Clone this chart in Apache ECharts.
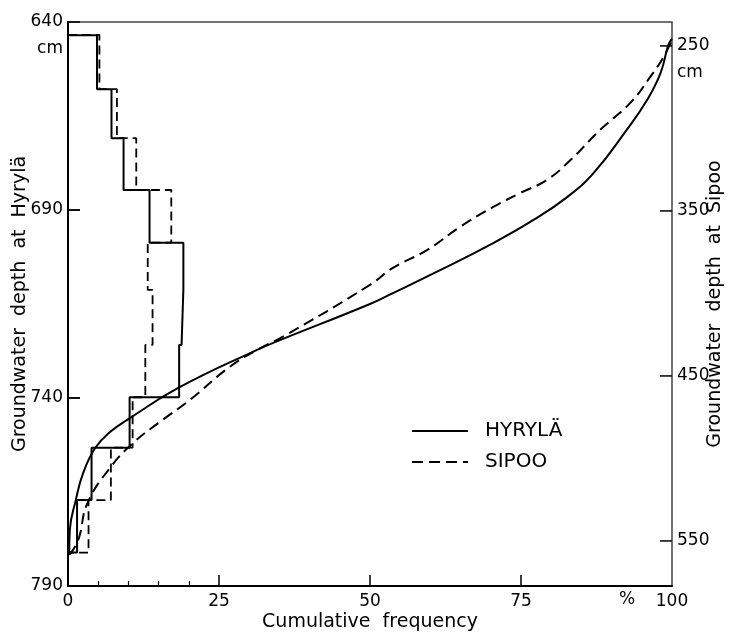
<!DOCTYPE html>
<html>
<head>
<meta charset="utf-8">
<script src="https://cdn.jsdelivr.net/npm/echarts@6/dist/echarts.min.js"></script>
<style>
html,body{margin:0;padding:0;background:#fff;}
#chart{width:732px;height:633px;}
</style>
</head>
<body>
<div id="chart"></div>
<script>
// ---- tick labels ----
const xTickLabels = [0, 25, 50, 75, 100];
const xMajorTicks = [25, 50, 75];
const xMinorTicks = [5, 10, 15, 20];
const hyrylaTickLabels = [640, 690, 740, 790];
const hyrylaInnerTicks = [690, 740];
const sipooTickLabels = [250, 350, 450, 550];

// ---- frequency histograms (class boundaries in cm, frequency in %) ----
const hyrylaClassBounds = [643.5, 657.9, 670.9, 684.7, 698.7, 711.3, 725.9, 739.8, 753.2, 767.1, 781.1];
const hyrylaFreq = [4.8, 7.2, 9.2, 13.5, 19.1, 18.8, 18.4, 10.2, 3.9, 1.5];
const sipooClassBounds = [243.3, 276.2, 305.9, 337.3, 369.2, 397.9, 431.2, 462.9, 493.5, 525.2, 557.1];
const sipooFreq = [5.2, 8.1, 11.3, 17.1, 13.2, 14.0, 12.8, 10.7, 7.1, 3.4];

// ---- cumulative frequency curves ----
const hyrylaCumFreq = [0.2, 0.3, 1.3, 2.5, 4.5, 7.0, 10.3, 18.4, 31.3, 35.1, 50.0, 53.8, 61.6, 70.4, 77.0, 82.7, 87.0, 92.5, 95.9, 98.1, 99.4, 100];
const hyrylaCumDepth = [781.2, 775.1, 767.1, 760.0, 753.3, 749.0, 745.3, 737.2, 727.2, 724.6, 715.0, 712.1, 706.0, 698.8, 692.7, 686.5, 680.2, 668.7, 660.7, 653.6, 646.1, 644.5];
const sipooCumFreq = [0.2, 1.7, 3.2, 7.0, 10.8, 15.2, 20.2, 26.8, 31.3, 35.6, 50.0, 53.8, 59.5, 64.9, 70.4, 74.9, 79.3, 83.2, 88.1, 93.1, 96.4, 98.6, 100];
const sipooCumDepth = [558.5, 549.4, 527.3, 505.5, 490.6, 477.9, 464.5, 444.4, 434.2, 426.2, 394.8, 384.5, 373.6, 359.7, 347.6, 339.1, 331.2, 319.1, 300.9, 284.5, 268.8, 256.7, 246.4];

function stepOutline(bounds, freq) {
  const pts = [[0, bounds[0]]];
  for (let i = 0; i < freq.length; i++) {
    pts.push([freq[i], bounds[i]]);
    pts.push([freq[i], bounds[i + 1]]);
  }
  pts.push([0, bounds[bounds.length - 1]]);
  return pts;
}
function zip(a, b) { return a.map((v, i) => [v, b[i]]); }

const FONT = 'DejaVu Sans';
const chart = echarts.init(document.getElementById('chart'));
chart.setOption({
  animation: false,
  textStyle: { fontFamily: FONT, color: '#000' },
  grid: {
    left: 68, right: 60, top: 22, bottom: 47,
    containLabel: false, outerBoundsMode: 'none',
    show: true, borderColor: '#444', borderWidth: 1.5, backgroundColor: 'transparent'
  },
  legend: {
    data: ['HYRYLÄ', 'SIPOO'],
    orient: 'vertical',
    left: 406,
    top: 416,
    itemWidth: 56,
    itemHeight: 14,
    itemGap: 11,
    itemStyle: { opacity: 0 },
    textStyle: { fontFamily: FONT, fontSize: 20, color: '#000', padding: [0, 0, 0, 12] }
  },
  xAxis: [
    {
      type: 'value', min: 0, max: 100, position: 'bottom',
      axisLine: { lineStyle: { color: '#000', width: 2 } },
      axisTick: { inside: true, length: 11, customValues: xMajorTicks, lineStyle: { color: '#000', width: 1.5 } },
      axisLabel: { customValues: xTickLabels, fontSize: 17, color: '#000', margin: 7, fontFamily: FONT },
      splitLine: { show: false },
      name: 'Cumulative  frequency', nameLocation: 'middle', nameGap: 27, nameMoveOverlap: false,
      nameTextStyle: { fontSize: 19, color: '#000', fontFamily: FONT }
    },
    {
      type: 'value', min: 0, max: 100, position: 'bottom',
      axisLine: { show: false },
      axisTick: { inside: true, length: 5, customValues: xMinorTicks, lineStyle: { color: '#000', width: 1.2 } },
      axisLabel: { show: false },
      splitLine: { show: false }
    }
  ],
  yAxis: [
    {
      type: 'value', min: 640, max: 790, interval: 50, inverse: true, position: 'left',
      axisLine: { show: true, lineStyle: { color: '#000', width: 2 } },
      axisTick: { show: true, inside: true, length: 12, lineStyle: { color: '#000', width: 1.5 } },
      axisLabel: { customValues: hyrylaTickLabels, fontSize: 17, color: '#000', margin: 5, fontFamily: FONT },
      splitLine: { show: false },
      name: 'Groundwater  depth  at  Hyrylä', nameLocation: 'middle', nameRotate: 90, nameGap: 38, nameMoveOverlap: false,
      nameTextStyle: { fontSize: 19, color: '#000', fontFamily: FONT }
    },
    {
      type: 'value', min: 235.5, max: 577.3, inverse: true, position: 'right',
      axisLine: { show: true, lineStyle: { color: '#000', width: 2 } },
      axisTick: { show: false },
      axisLabel: { customValues: sipooTickLabels, fontSize: 17, color: '#000', margin: 5, fontFamily: FONT },
      splitLine: { show: false },
      name: 'Groundwater  depth  at  Sipoo', nameLocation: 'middle', nameRotate: 90, nameGap: 34, nameMoveOverlap: false,
      nameTextStyle: { fontSize: 19, color: '#000', fontFamily: FONT }
    }
  ],
  series: [
    {
      name: 'HYRYLÄ', type: 'line', xAxisIndex: 0, yAxisIndex: 0,
      data: zip(hyrylaCumFreq, hyrylaCumDepth),
      smooth: 0.45, symbol: 'none', showSymbol: false,
      lineStyle: { color: '#000', width: 2 }, itemStyle: { color: '#000' }
    },
    {
      name: 'SIPOO', type: 'line', xAxisIndex: 0, yAxisIndex: 1,
      data: zip(sipooCumFreq, sipooCumDepth),
      smooth: 0.45, symbol: 'none', showSymbol: false,
      lineStyle: { color: '#000', width: 2, type: [11, 6] }, itemStyle: { color: '#000' }
    },
    {
      name: 'Hyrylä frequency', type: 'line', xAxisIndex: 0, yAxisIndex: 0,
      data: stepOutline(hyrylaClassBounds, hyrylaFreq),
      symbol: 'none', showSymbol: false,
      lineStyle: { color: '#000', width: 2 }
    },
    {
      name: 'Sipoo frequency', type: 'line', xAxisIndex: 0, yAxisIndex: 1,
      data: stepOutline(sipooClassBounds, sipooFreq),
      symbol: 'none', showSymbol: false,
      lineStyle: { color: '#000', width: 1.8, type: [9, 5] }
    }
  ]
});

// inward y-axis ticks and unit annotations, positioned through the chart's own scales
const xRight = chart.convertToPixel({ xAxisIndex: 0 }, 100);
const xLeft = chart.convertToPixel({ xAxisIndex: 0 }, 0);
const graphics = [];
sipooTickLabels.forEach(v => {
  const y = chart.convertToPixel({ yAxisIndex: 1 }, v);
  graphics.push({ type: 'line', z: 100, shape: { x1: xRight - 12, y1: y, x2: xRight, y2: y }, style: { stroke: '#000', lineWidth: 1.5 } });
});
hyrylaInnerTicks.forEach(v => {
  const y = chart.convertToPixel({ yAxisIndex: 0 }, v);
  graphics.push({ type: 'line', z: 100, shape: { x1: xLeft, y1: y, x2: xLeft + 12, y2: y }, style: { stroke: '#000', lineWidth: 1.5 } });
});
const yTopLeft = chart.convertToPixel({ yAxisIndex: 0 }, hyrylaTickLabels[0]);
const yTopRight = chart.convertToPixel({ yAxisIndex: 1 }, sipooTickLabels[0]);
const yBottom = chart.convertToPixel({ yAxisIndex: 0 }, hyrylaTickLabels[hyrylaTickLabels.length - 1]);
graphics.push({ type: 'text', x: xLeft - 5, y: yTopLeft + 27, style: { text: 'cm', font: '17px "DejaVu Sans"', fill: '#000', align: 'right', verticalAlign: 'middle' } });
graphics.push({ type: 'text', x: xRight + 5, y: yTopRight + 27, style: { text: 'cm', font: '17px "DejaVu Sans"', fill: '#000', align: 'left', verticalAlign: 'middle' } });
graphics.push({ type: 'text', x: xRight - 45, y: yBottom + 14, style: { text: '%', font: '17px "DejaVu Sans"', fill: '#000', align: 'center', verticalAlign: 'middle' } });
chart.setOption({ graphic: graphics });
</script>
</body>
</html>
